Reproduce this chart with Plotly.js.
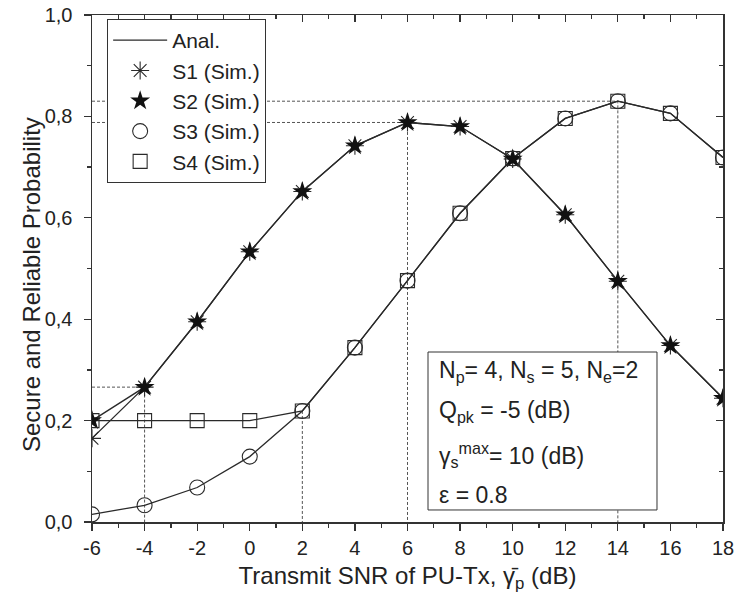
<!DOCTYPE html>
<html>
<head>
<meta charset="utf-8">
<script src="https://cdn.plot.ly/plotly-3.0.1.min.js"></script>
<style>html,body{margin:0;padding:0;background:#fff;}#chart{width:736px;height:604px;}</style>
</head>
<body>
<div id="chart"></div>
<script>
// ---- data ----
const snr = [-6, -4, -2, 0, 2, 4, 6, 8, 10, 12, 14, 16, 18];
const s1 = [0.165, 0.266, 0.395, 0.533, 0.652, 0.742, 0.788, 0.780, 0.716, 0.606, 0.475, 0.348, 0.244];
const s2 = [0.200, 0.266, 0.395, 0.533, 0.652, 0.742, 0.788, 0.780, 0.716, 0.606, 0.475, 0.348, 0.244];
const s3 = [0.015, 0.033, 0.068, 0.129, 0.219, 0.344, 0.476, 0.609, 0.717, 0.796, 0.830, 0.806, 0.719];
const s4 = [0.200, 0.200, 0.200, 0.200, 0.219, 0.344, 0.476, 0.609, 0.717, 0.796, 0.830, 0.806, 0.719];
const seriesNames = ['S1 (Sim.)', 'S2 (Sim.)', 'S3 (Sim.)', 'S4 (Sim.)'];
const xTickVals = [-6, -4, -2, 0, 2, 4, 6, 8, 10, 12, 14, 16, 18];
const xTickText = ['-6', '-4', '-2', '0', '2', '4', '6', '8', '10', '12', '14', '16', '18'];
const yTickVals = [0, 0.2, 0.4, 0.6, 0.8, 1.0];
// guide lines: x where marked, series it is read from, draw horizontal part?
const guideX = [-4, 2, 6, 14];
const guideSeries = [s1, s3, s1, s3];
const guideHoriz = [true, false, true, true];
// parameter box lines
const paramLines = [
  'N<sub>p</sub>= 4, N<sub>s</sub> = 5, N<sub>e</sub>=2',
  'Q<sub>pk</sub> = -5 (dB)',
  'γ<sub>s</sub><sup>max</sup>= 10 (dB)',
  'ε = 0.8'
];
const xTitle = 'Transmit SNR of PU-Tx, γ\u0304<sub>p</sub> (dB)';
const yTitle = 'Secure and Reliable Probability';

// ---- styling ----
const lineCol = '#2a2a2a';
const axisCol = '#333';
const FONT = 'Liberation Sans, Arial, sans-serif';

const traces = [];
guideX.forEach((gx, i) => {
  const gy = guideSeries[i][snr.indexOf(gx)];
  const xs = guideHoriz[i] ? [snr[0], gx, gx] : [gx, gx];
  const ys = guideHoriz[i] ? [gy, gy, 0] : [gy, 0];
  traces.push({x: xs, y: ys, mode: 'lines', line: {color: '#555', width: 1, dash: '3px,2px'},
    showlegend: false, hoverinfo: 'skip'});
});
[s1, s2, s3, s4].forEach((s, i) => {
  traces.push({x: snr, y: s, mode: 'lines', name: 'Anal.', line: {color: lineCol, width: 1.3},
    showlegend: i === 0});
});
const markerDefs = [
  {symbol: 'asterisk-open', size: 15, line: {color: lineCol, width: 1.1}, color: lineCol},
  {symbol: 'star', size: 15, line: {color: '#111', width: 0}, color: '#111'},
  {symbol: 'circle-open', size: 15, line: {color: lineCol, width: 1.1}, color: lineCol},
  {symbol: 'square-open', size: 14, line: {color: lineCol, width: 1.1}, color: lineCol}
];
[s1, s2, s3, s4].forEach((s, i) => {
  traces.push({x: snr, y: s, mode: 'markers', name: seriesNames[i], marker: markerDefs[i], showlegend: true});
});
traces.push({x: [snr[0]], y: [yTickVals[0]], xaxis: 'x2', yaxis: 'y2', mode: 'markers',
  marker: {opacity: 0}, showlegend: false, hoverinfo: 'skip'});

const xr = [-6, 18], yr = [0, 1];
const baseX = {range: xr, tickvals: xTickVals, ticktext: xTickText, showgrid: false, zeroline: false,
  showline: true, linecolor: axisCol, linewidth: 1.5, tickcolor: axisCol, tickwidth: 1.3};
const baseY = {range: yr, tickvals: yTickVals, tickformat: '.1f', showgrid: false, zeroline: false,
  showline: true, linecolor: axisCol, linewidth: 1.5, tickcolor: axisCol, tickwidth: 1.3};

const annots = paramLines.map((t, i) => ({
  xref: 'paper', yref: 'paper', x: 0.547, y: [0.296, 0.217, 0.132, 0.053][i],
  xanchor: 'left', yanchor: 'middle', align: 'left', showarrow: false,
  font: {size: 23, family: FONT, color: '#222'}, text: t
}));
annots.push({xref: 'paper', yref: 'paper', x: -0.095, y: 0.4675, xanchor: 'center', yanchor: 'middle',
  textangle: -90, showarrow: false, font: {size: 24, family: FONT, color: '#222'}, text: yTitle});

const layout = {
  width: 736, height: 604,
  margin: {l: 92, r: 13, t: 15, b: 82},
  paper_bgcolor: '#fff', plot_bgcolor: '#fff',
  separators: ', ',
  font: {family: FONT, color: '#222', size: 20},
  xaxis: Object.assign({}, baseX, {ticks: 'outside', ticklen: 7,
    minor: {ticks: 'outside', ticklen: 4, dtick: 1, tickcolor: axisCol, tickwidth: 1.3},
    tickfont: {size: 20},
    title: {text: xTitle, font: {size: 24}, standoff: 9}}),
  yaxis: Object.assign({}, baseY, {ticks: 'outside', ticklen: 7, ticklabelstandoff: 7,
    minor: {ticks: 'outside', ticklen: 4, dtick: 0.1, tickcolor: axisCol, tickwidth: 1.3},
    tickfont: {size: 20}}),
  xaxis2: Object.assign({}, baseX, {overlaying: 'x', side: 'top', anchor: 'y2', ticks: 'inside', ticklen: 7,
    showticklabels: false, minor: {ticks: 'inside', ticklen: 4, dtick: 1, tickcolor: axisCol, tickwidth: 1.3}}),
  yaxis2: Object.assign({}, baseY, {overlaying: 'y', side: 'right', anchor: 'x2', ticks: 'inside', ticklen: 7,
    showticklabels: false, minor: {ticks: 'inside', ticklen: 4, dtick: 0.1, tickcolor: axisCol, tickwidth: 1.3}}),
  legend: {x: 0.024, y: 0.992, xanchor: 'left', yanchor: 'top', bgcolor: '#fff',
    bordercolor: '#333', borderwidth: 1, font: {size: 21, family: FONT},
    traceorder: 'normal', itemwidth: 54},
  shapes: [{type: 'rect', xref: 'paper', yref: 'paper', x0: 0.5325, x1: 0.8954, y0: 0.0237, y1: 0.3353,
    fillcolor: '#fff', line: {color: '#333', width: 1}, layer: 'above'}],
  annotations: annots,
  showlegend: true
};

Plotly.newPlot('chart', traces, layout, {displayModeBar: false, staticPlot: true});
</script>
</body>
</html>
